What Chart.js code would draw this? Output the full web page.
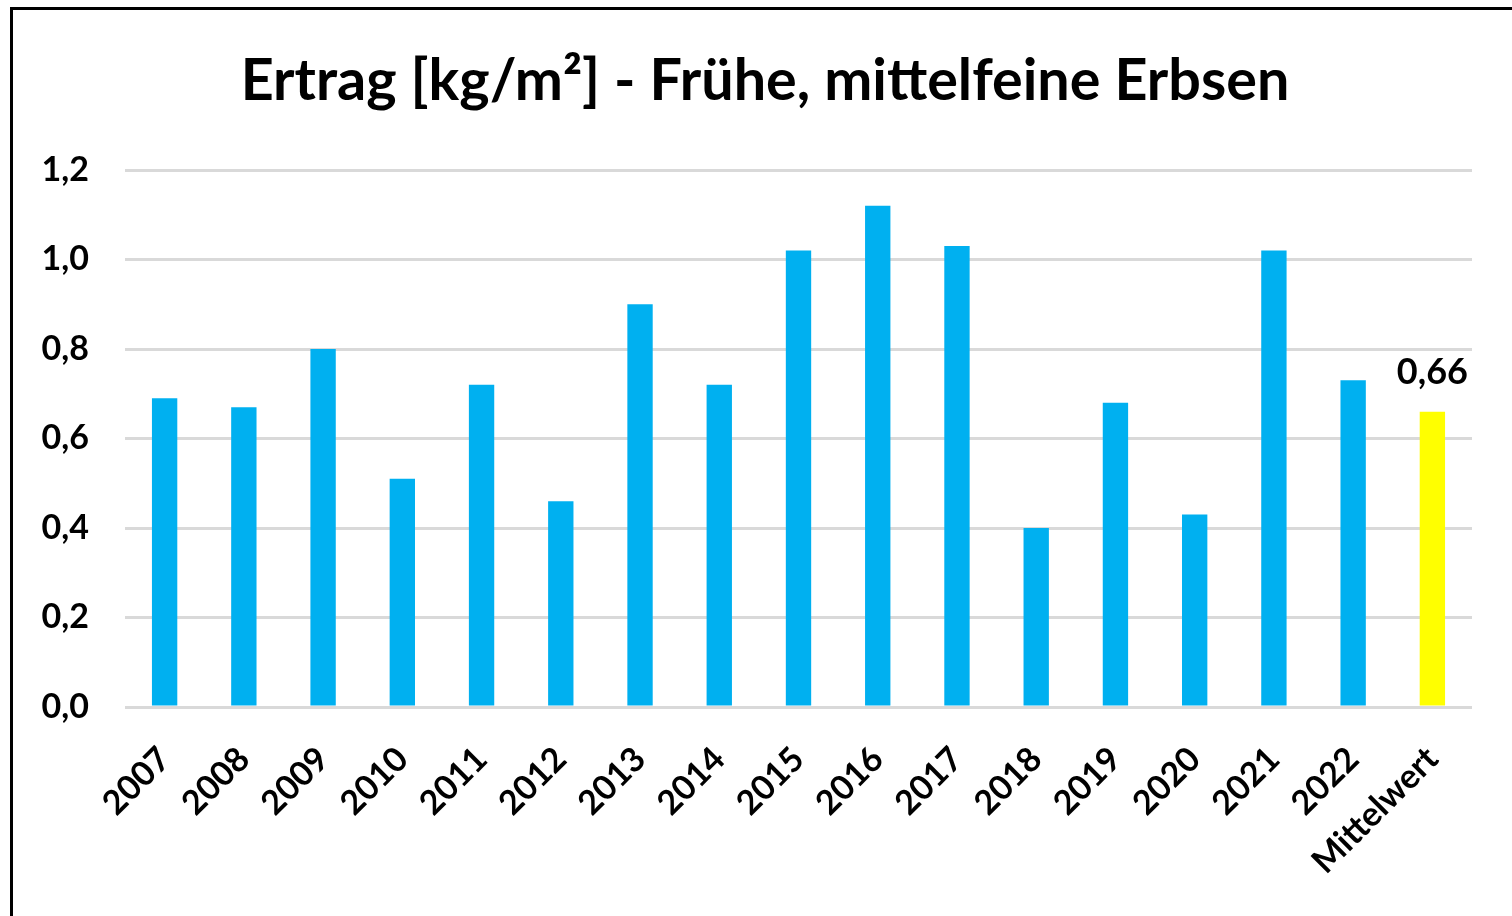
<!DOCTYPE html>
<html>
<head>
<meta charset="utf-8">
<script src="https://cdn.jsdelivr.net/npm/chart.js@4/dist/chart.umd.min.js"></script>
<style>
  html, body { margin: 0; padding: 0; background: #fff; overflow: hidden; }
  #wrap { position: absolute; left: 0; top: 0; width: 1512px; height: 916px; }
  #frame { position: absolute; left: 10px; top: 7px; width: 1520px; height: 940px;
           border: 3px solid #000; pointer-events: none; box-sizing: border-box; }
</style>
</head>
<body>
<div id="wrap">
  <canvas id="ertragChart" width="1512" height="916"></canvas>
  <div id="frame"></div>
</div>
<script>
// categories and values (kg/m²)
const years = ['2007', '2008', '2009', '2010', '2011', '2012', '2013', '2014',
               '2015', '2016', '2017', '2018', '2019', '2020', '2021', '2022', 'Mittelwert'];
const ertrag = [0.69, 0.67, 0.80, 0.51, 0.72, 0.46, 0.90, 0.72,
                1.02, 1.12, 1.03, 0.40, 0.68, 0.43, 1.02, 0.73, 0.66];
const yTicks = [0, 0.2, 0.4, 0.6, 0.8, 1.0, 1.2];
const titleText = 'Ertrag [kg/m²] - Frühe, mittelfeine Erbsen';

const blue = '#00B0F0';
const yellow = '#FFFF00';
const barColors = years.map(y => y === 'Mittelwert' ? yellow : blue);

function komma(v, d) {
    return v.toFixed(d).replace('.', ',');
}

// title (drawn by hand so it sits centred over the whole frame) + label on the average bar
const extraText = {
    id: 'extraText',
    afterDraw(chart) {
        const ctx = chart.ctx;
        ctx.save();
        ctx.fillStyle = '#000';
        ctx.textAlign = 'center';
        ctx.textBaseline = 'alphabetic';

        ctx.font = 'bold 57.5px Lato';
        ctx.fillText(titleText, 765, 100);

        const i = years.indexOf('Mittelwert');
        const bar = chart.getDatasetMeta(0).data[i];
        ctx.font = 'bold 36px Lato';
        ctx.fillText(komma(ertrag[i], 2), bar.x, bar.y - 28);
        ctx.restore();
    }
};

const ctx = document.getElementById('ertragChart').getContext('2d');
new Chart(ctx, {
    type: 'bar',
    data: {
        labels: years,
        datasets: [{
            data: ertrag,
            backgroundColor: barColors,
            borderWidth: 0,
            categoryPercentage: 1.0,
            barPercentage: 0.32
        }]
    },
    options: {
        responsive: false,
        animation: false,
        layout: { padding: { left: 20, right: 40, top: 170, bottom: 0 } },
        plugins: {
            legend: { display: false },
            tooltip: { enabled: false },
            title: { display: false }
        },
        scales: {
            x: {
                grid: { display: false, drawTicks: false },
                border: { display: false },
                ticks: {
                    color: '#000',
                    font: { family: 'Lato', size: 34, weight: 'bold' },
                    minRotation: 45,
                    maxRotation: 45,
                    padding: 32
                },
                afterFit(scale) { scale.height = 916 - 707; }
            },
            y: {
                min: 0,
                max: 1.2,
                afterBuildTicks(scale) { scale.ticks = yTicks.map(v => ({ value: v })); },
                grid: { color: '#d9d9d9', lineWidth: 3, drawTicks: false },
                border: { display: false },
                ticks: {
                    color: '#000',
                    font: { family: 'Lato', size: 34, weight: 'bold' },
                    padding: 36,
                    callback: v => komma(v, 1)
                },
                afterFit(scale) { scale.width = 105; }
            }
        }
    },
    plugins: [extraText]
});
</script>
</body>
</html>
